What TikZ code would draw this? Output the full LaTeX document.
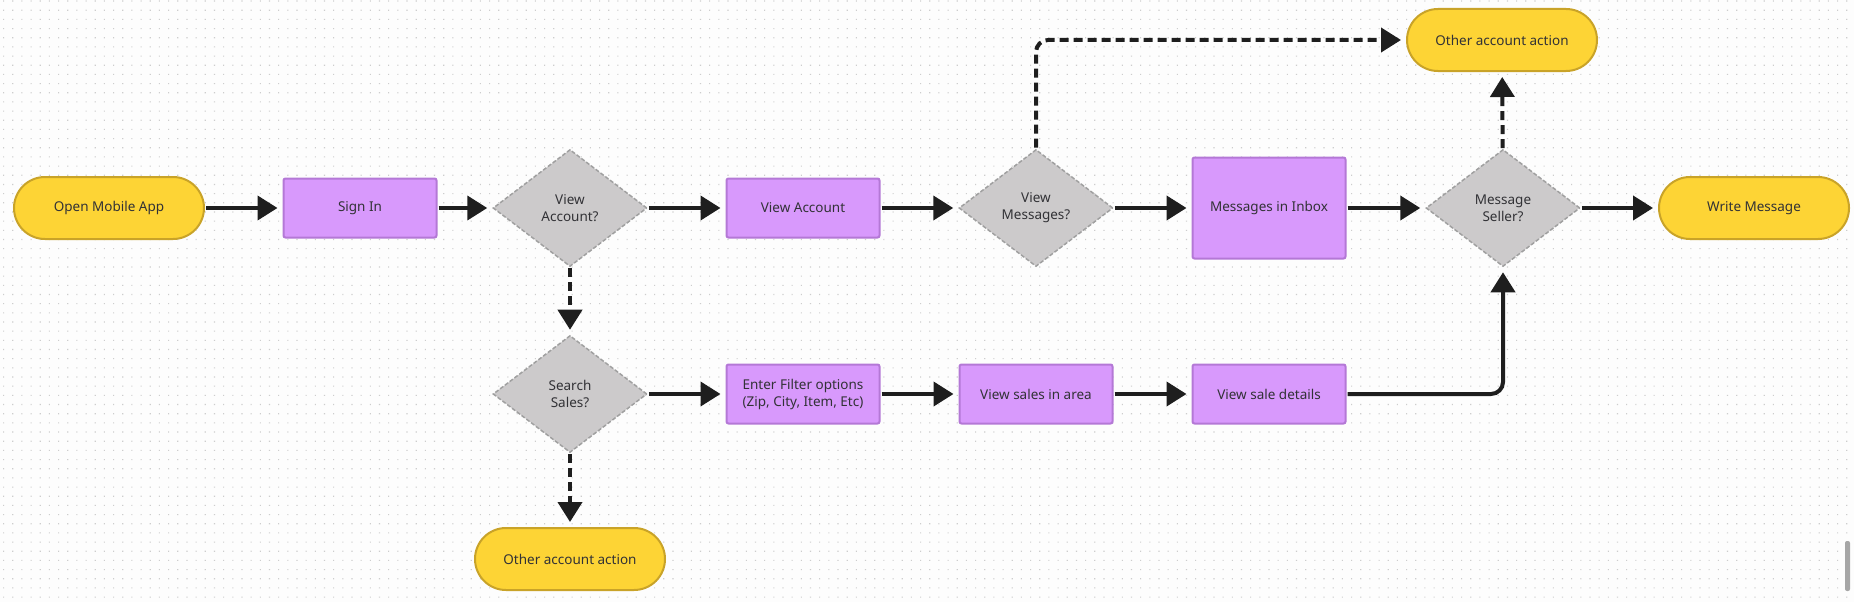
\documentclass[tikz,border=0pt]{standalone}
\usepackage{fontspec}
\setmainfont{Noto Sans}
\usetikzlibrary{shapes.geometric,arrows.meta}
\definecolor{bg}{RGB}{253,253,253}
\definecolor{dotc}{RGB}{205,205,205}
\definecolor{yel}{RGB}{253,212,53}
\definecolor{yelb}{RGB}{201,163,40}
\definecolor{pur}{RGB}{216,153,252}
\definecolor{purb}{RGB}{180,120,214}
\definecolor{gry}{RGB}{204,202,203}
\definecolor{gryb}{RGB}{160,160,160}
\definecolor{txt}{RGB}{50,50,54}
\definecolor{arr}{RGB}{30,30,30}
\tikzset{
  base/.style={font=\fontsize{13.5}{17}\selectfont, text=txt, align=center, inner sep=0pt},
  term/.style={base, rectangle, rounded corners=31pt, minimum width=190pt, minimum height=62pt, fill=yel, draw=yelb, line width=2pt},
  proc/.style={base, rectangle, rounded corners=2pt, minimum width=153pt, minimum height=59pt, fill=pur, draw=purb, line width=2pt},
  dec/.style={base, diamond, minimum width=154pt, minimum height=117pt, fill=gry, draw=gryb, line width=1.5pt, dash pattern=on 4pt off 2pt},
  conn/.style={draw=arr, line width=4pt, -{Triangle[length=20pt,width=24pt]}, shorten >=5pt, shorten <=1pt},
  dconn/.style={conn, dash pattern=on 9pt off 5pt}
}
\begin{document}
\begin{tikzpicture}[x=1pt,y=-1pt]
\useasboundingbox (0,0) rectangle (1854,602);
\fill[bg] (0,0) rectangle (1854,602);
\foreach \j in {0,...,65} {
  \fill[dotc] \foreach \i in {0,...,202} { (\i*9.17+3,\j*9.17+0.5) rectangle ++(1.1,1.1) };
}
% scrollbar
\fill[gray!70, rounded corners=2pt] (1845,541) rectangle (1850,591);

\node[term] (open) at (109,208) {Open Mobile App};
\node[proc] (signin) at (360,208) {Sign In};
\node[dec] (dva) at (570,208) {View\\Account?};
\node[proc] (va) at (803,208) {View Account};
\node[dec] (dvm) at (1036,208) {View\\Messages?};
\node[proc, minimum height=101pt] (inbox) at (1269,208) {Messages in Inbox};
\node[dec] (dms) at (1503,208) {Message\\Seller?};
\node[term] (write) at (1754,208) {Write Message};
\node[term] (oaa1) at (1502,40) {Other account action};
\node[dec] (dss) at (570,394) {Search\\Sales?};
\node[proc] (filter) at (803,394) {Enter Filter options\\(Zip, City, Item, Etc)};
\node[proc] (sales) at (1036,394) {View sales in area};
\node[proc] (details) at (1269,394) {View sale details};
\node[term] (oaa2) at (570,559) {Other account action};

\draw[conn] (open) -- (signin);
\draw[conn] (signin) -- (dva);
\draw[conn] (dva) -- (va);
\draw[conn] (va) -- (dvm);
\draw[conn] (dvm) -- (inbox);
\draw[conn] (inbox) -- (dms);
\draw[conn] (dms) -- (write);
\draw[dconn] (dva) -- (dss);
\draw[dconn] (dss) -- (oaa2);
\draw[conn] (dss) -- (filter);
\draw[conn] (filter) -- (sales);
\draw[conn] (sales) -- (details);
\draw[conn, rounded corners=12pt] (details) -| (dms);
\draw[dconn, rounded corners=12pt] (dvm) |- (oaa1);
\draw[dconn] (dms) -- (oaa1);
\end{tikzpicture}
\end{document}
